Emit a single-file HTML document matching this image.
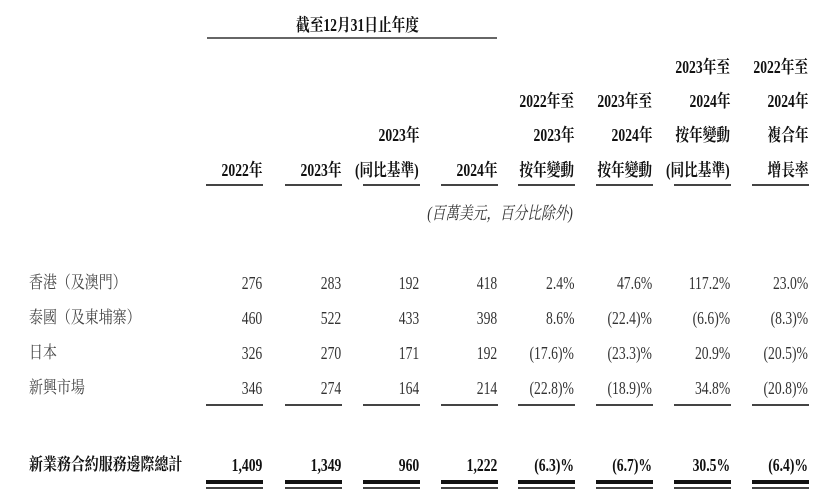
<!DOCTYPE html>
<html><head><meta charset="utf-8"><style>
body{margin:0;width:830px;height:499px;background:#fff;position:relative;overflow:hidden;font-family:"Liberation Serif","Noto Serif CJK SC","Noto Sans CJK TC",serif;color:#333}
.c{position:absolute;white-space:nowrap;font-size:17.5px;line-height:20px;transform:scaleX(0.78);transform-origin:right center;text-align:right}
.l{position:absolute;white-space:nowrap;font-size:17px;line-height:20px;transform:scaleX(0.82);transform-origin:left center;left:29px;color:#444}
.b{font-weight:bold;color:#111}
.h{position:absolute;background:#444;height:1.5px}
.t{position:absolute;background:#111}
</style></head><body>
<div class="c b" style="left:280px;top:15px;transform-origin:center;width:146px;text-align:center">截至12月31日止年度</div>
<div class="h" style="left:207px;top:37px;width:290px;height:2px;background:#666"></div>
<div class="c" style="left:400px;top:203px;width:200px;text-align:center;font-style:italic;transform-origin:center">(百萬美元，百分比除外)</div>
<div class="l" style="top:273px">香港（及澳門）</div>
<div class="l" style="top:308px">泰國（及東埔寨）</div>
<div class="l" style="top:343px">日本</div>
<div class="l" style="top:378px">新興市場</div>
<div class="l b" style="top:455px">新業務合約服務邊際總計</div>
<div id="cells"></div>
<script>
var R=[262,341,419,497,574,652,730,808];
var hdr=[["2022年"],["2023年"],["2023年","(同比基準)"],["2024年"],["2022年至","2023年","按年變動"],["2023年至","2024年","按年變動"],["2023年至","2024年","按年變動","(同比基準)"],["2022年至","2024年","複合年","增長率"]];
var rows=[["276","283","192","418","2.4%","47.6%","117.2%","23.0%"],["460","522","433","398","8.6%","(22.4)%","(6.6)%","(8.3)%"],["326","270","171","192","(17.6)%","(23.3)%","20.9%","(20.5)%"],["346","274","164","214","(22.8)%","(18.9)%","34.8%","(20.8)%"]];
var tot=["1,409","1,349","960","1,222","(6.3)%","(6.7)%","30.5%","(6.4)%"];
var ys=[57,91,125,160];var h="";
function cell(x,y,t,cls){return '<div class="c '+cls+'" style="right:'+(830-x)+'px;top:'+y+'px">'+t+'</div>';}
for(var i=0;i<8;i++){
 var lines=hdr[i];var n=lines.length;
 for(var j=0;j<n;j++){h+=cell(R[i],ys[4-n+j],lines[j],"b");}
 h+='<div class="h" style="left:'+(R[i]-56)+'px;top:184px;width:57px"></div>';
 for(var r=0;r<4;r++)h+=cell(R[i],273+r*35,rows[r][i],"");
 h+='<div class="h" style="left:'+(R[i]-56)+'px;top:404px;width:57px"></div>';
 h+=cell(R[i],455,tot[i],"b");
 h+='<div class="t" style="left:'+(R[i]-56)+'px;top:480px;width:57px;height:4px"></div>';
 h+='<div class="t" style="left:'+(R[i]-56)+'px;top:487px;width:57px;height:1.5px;background:#444"></div>';
}
document.getElementById("cells").innerHTML=h;
</script>
</body></html>
